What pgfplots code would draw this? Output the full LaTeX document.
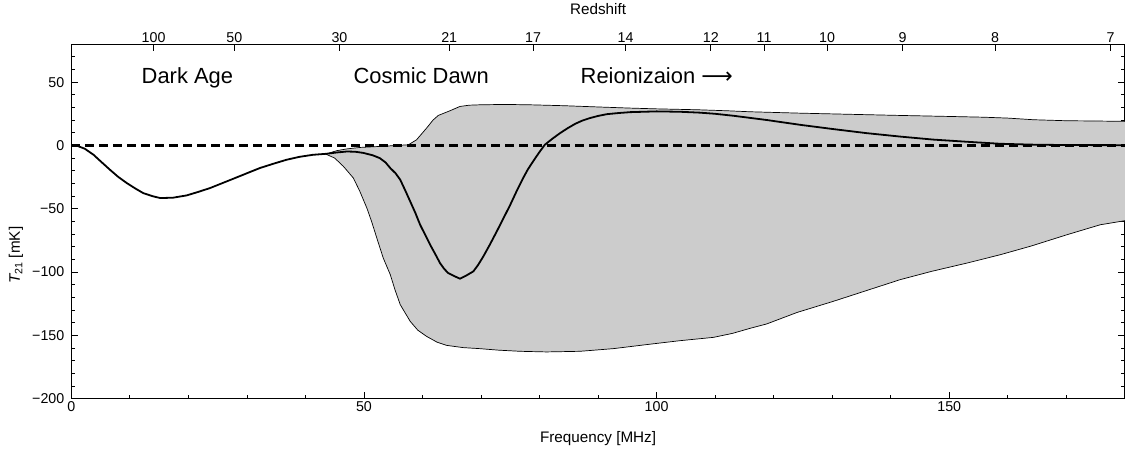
\documentclass[border=0pt]{standalone}
\usepackage{pgfplots}
\pgfplotsset{compat=1.18}
\usepackage{pgfplotstable}
\usepgfplotslibrary{fillbetween}
\usepackage{fontspec}
\setmainfont{Liberation Sans}
\newfontfamily\dejavu{DejaVu Sans}

\definecolor{bandgray}{RGB}{204,204,204}

% upper edge of the band
\pgfplotstableread{
x y
43.5 -6.9
45.3 -4.2
47.0 -2.8
49.3 -1.6
52.7 -0.8
55.0 -0.2
57.6 0.5
59.0 4.5
60.7 13.7
61.8 20.0
62.7 23.7
64.7 27.4
66.4 30.8
68.0 31.8
69.8 32.1
74.0 32.4
78.4 32.1
84.1 31.4
90.0 30.4
95.5 29.5
100.0 28.9
106.9 28.2
112.0 27.4
116.0 26.6
124.5 25.5
133.0 24.6
141.6 23.7
150.0 22.9
155.9 22.3
160.0 21.6
164.4 20.3
170.1 19.5
175.0 19.3
180.0 19.0
}\tabUp

% lower edge of the band
\pgfplotstableread{
x y
43.5 -6.9
45.0 -10.0
46.5 -16.6
48.2 -25.8
49.3 -36.3
50.5 -49.5
51.3 -60.0
52.2 -73.2
53.3 -89.0
54.5 -102.1
55.3 -114.0
56.2 -125.8
57.9 -139.0
59.2 -146.0
60.7 -150.9
62.5 -155.5
64.1 -158.0
67.0 -159.8
69.8 -160.6
73.0 -161.8
76.7 -162.7
81.2 -163.2
86.9 -162.7
92.6 -160.6
98.3 -157.4
104.0 -154.3
109.7 -151.7
113.0 -148.5
116.0 -144.5
118.8 -141.1
124.0 -132.0
130.2 -123.2
136.0 -114.5
141.6 -106.1
147.0 -99.5
153.0 -93.0
158.7 -86.4
164.0 -79.5
170.1 -70.6
175.8 -62.7
180.0 -59.5
}\tabLo

% mean signal
\pgfplotstableread{
x y
0 0
1.0 -0.3
2.3 -2.6
3.8 -7.4
5.0 -12.5
6.6 -19.2
8.0 -24.8
9.5 -29.8
11.0 -34.2
12.3 -37.7
13.8 -40.0
15.2 -41.6
17.4 -41.3
19.7 -39.5
21.5 -37.0
23.7 -33.7
25.7 -30.0
27.7 -26.3
30.0 -22.0
32.2 -17.9
34.5 -14.5
36.8 -11.3
39.0 -9.0
41.3 -7.4
43.6 -6.6
45.3 -5.6
47.1 -4.8
48.5 -5.0
49.9 -5.9
51.5 -7.8
52.7 -10.0
53.7 -13.5
54.5 -17.9
55.4 -22.0
56.2 -27.1
57.0 -35.0
57.9 -44.2
58.8 -53.5
59.6 -62.7
60.5 -71.0
61.3 -78.4
62.2 -86.0
63.0 -93.0
63.7 -97.5
64.4 -100.9
65.4 -103.2
66.4 -105.3
67.5 -102.8
68.7 -99.5
69.5 -94.5
70.4 -87.7
71.5 -78.5
72.7 -67.9
73.9 -57.0
75.0 -46.9
76.1 -36.0
77.2 -25.8
78.0 -19.0
78.9 -12.6
79.9 -5.8
80.9 0.5
82.2 5.3
83.5 9.7
84.8 13.6
86.1 17.1
87.3 19.6
88.6 21.6
90.0 23.3
91.5 24.7
93.5 25.6
95.5 26.3
100.0 26.9
104.0 26.6
107.4 25.9
110.0 25.0
113.2 23.4
118.8 20.1
124.5 16.3
130.2 12.9
135.9 9.7
141.6 7.0
147.3 4.6
153.0 2.9
158.7 1.3
164.4 0.6
170.0 0.3
180.0 0.2
}\tabMean

\begin{document}
\begin{tikzpicture}
\pgfplotsset{
  every axis/.append style={
    scale only axis, width=1053.5bp, height=354.3bp,
    xmin=0, xmax=180, ymin=-200, ymax=80,
    tick align=inside,
    major tick length=6.4bp, minor tick length=3.5bp,
    axis line style={line width=0.8bp},
    every tick/.style={black, line width=0.7bp},
    /pgf/number format/assume math mode=true,
    tick label style={font=\fontsize{14.3}{16}\selectfont},
    label style={font=\fontsize{15.3}{18}\selectfont},
  }
}
\begin{axis}[
  name=main,
  set layers,
  xtick={0,50,100,150},
  minor xtick={10,20,...,180},
  xtick pos=left,
  ytick={-200,-150,-100,-50,0,50},
  yticklabels={−200,−150,−100,−50,0,50},
  minor ytick={-190,-180,...,80},
  ytick pos=both, yticklabel pos=left,
  yticklabel style={xshift=-3.5bp},
  xlabel={Frequency [MHz]},
  ylabel={{\itshape T}\textsubscript{21} [mK]},
  xlabel style={at={(axis description cs:0.5,-0.113)}, anchor=center},
  ylabel style={at={(axis description cs:-0.0525,0.404)}, anchor=center, rotate=0},
]
\addplot[name path=up, black, line width=0.7bp] table[x=x,y=y] {\tabUp};
\addplot[name path=lo, black, line width=0.7bp] table[x=x,y=y] {\tabLo};
\addplot[bandgray, on layer=axis background] fill between[of=up and lo];
\addplot[black, line width=2.2bp, dash pattern=on 9bp off 5bp] coordinates {(0,0) (180,0)};
\addplot[black, line width=1.8bp] table[x=x,y=y] {\tabMean};
\node[anchor=base west, inner sep=0, font=\fontsize{22}{26}\selectfont] at (axis cs:12.0,49.2) {Dark Age};
\node[anchor=base west, inner sep=0, font=\fontsize{22}{26}\selectfont] at (axis cs:48.2,49.2) {Cosmic Dawn};
\node[anchor=base west, inner sep=0, font=\fontsize{22}{26}\selectfont] at (axis cs:87.0,49.2) {Reionizaion {\dejavu ⟶}};
\end{axis}
\begin{axis}[
  hide y axis,
  axis x line*=top,
  xtick={14.063,27.851,45.819,64.564,78.911,94.693,109.262,118.367,129.127,142.04,157.822,177.55},
  xticklabels={100,50,30,21,17,14,12,11,10,9,8,7},
  minor xtick={},
  xticklabel style={yshift=-1.8bp},
  xlabel={Redshift},
  xlabel style={at={(axis description cs:0.5,1.0996)}, anchor=center},
]
\addplot[draw=none] coordinates {(0,0) (180,0)};
\end{axis}
\path ([xshift=-71.3bp,yshift=-49bp]main.south west) rectangle ([xshift=2.2bp,yshift=42.7bp]main.north east);
\end{tikzpicture}
\end{document}
